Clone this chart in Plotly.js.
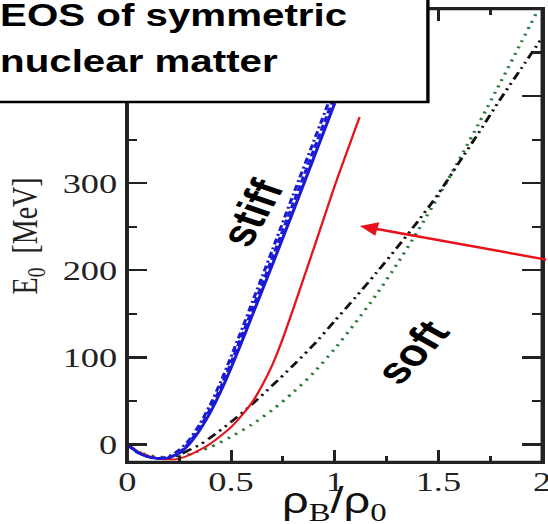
<!DOCTYPE html>
<html>
<head>
<meta charset="utf-8">
<script src="https://cdn.plot.ly/plotly-3.0.1.min.js"></script>
<style>
  html, body { margin:0; padding:0; background:#fff; overflow:hidden; }
  #wrap { width:548px; height:524px; overflow:hidden; position:relative; }
  #plot { height:524px; transform-origin:0 0; }
</style>
</head>
<body>
<div id="wrap"><div id="plot"></div></div>
<script>
// ---- data ----
const rhoBlue = [0, 0.05, 0.1, 0.15, 0.2, 0.25, 0.3, 0.35, 0.4, 0.45, 0.5, 0.55, 0.6, 0.65, 0.7, 0.8, 0.9, 1.0];
const eBlueSolid   = [0, -9, -14, -16, -15, -10, 1, 17, 37, 61, 88, 117, 147, 177, 207, 268, 330, 392];
const eBlueDash    = [0, -9, -14, -16, -14.5, -9, 3, 20, 41, 66, 94, 124, 154, 184, 215, 277, 339, 401];
const eBlueDashDot = [0, -9, -14, -15.5, -13.5, -6, 6, 24, 46, 72, 101, 131, 162, 193, 224, 287, 349, 411];

const rhoRed = [0, 0.05, 0.1, 0.15, 0.2, 0.25, 0.3, 0.35, 0.4, 0.45, 0.5, 0.55, 0.6, 0.65, 0.7, 0.75, 0.8, 0.85, 0.9, 1.0, 1.12];
const eRed   = [0, -8, -13, -16, -17, -16, -12, -6, 1, 10, 20, 33, 48, 68, 92, 122, 156, 191, 226, 297, 376];

const rhoSoft = [0, 0.05, 0.1, 0.15, 0.2, 0.25, 0.3, 0.35, 0.4, 0.5, 0.6, 0.7, 0.8, 0.9, 1.0, 1.1, 1.2, 1.3, 1.4, 1.5, 1.6, 1.7, 1.8, 1.9, 2.0];
const eBlack = [0, -8, -13, -16, -16, -12, -6, 0, 8, 26, 46, 68, 91, 115, 142, 169, 197, 226, 256, 288, 324, 360, 397, 432, 467];
const eGreen = [-2, -8, -12, -14, -14.5, -13.5, -11, -7, -3, 9, 23, 40, 60, 83, 110, 140, 172, 207, 245, 285, 327, 371, 416, 462, 508];

const xTickVals = [0, 0.5, 1, 1.5, 2];
const xTickText = ['0', '0.5', '1', '1.5', '2'];
const xMinorVals = [0.25, 0.75, 1.25, 1.75];
const yTickVals = [0, 100, 200, 300, 400];
const yTickText = ['0', '100', '200', '300', ''];   // 400 is hidden behind the title box
const yMinorVals = [50, 150, 250, 350, 450];

const titleLines = ['EOS of symmetric', 'nuclear matter'];
const labelStiff = 'stiff';
const labelSoft = 'soft';

// ---- geometry (horizontal stretch of the original figure) ----
const S = 1.3;
const W = 548 / S, H = 524;
const mL = 128 / S, mR = 6 / S, mT = 9, mB = 62;
const pw = W - mL - mR, ph = H - mT - mB;
const px = X => ((X / S) - mL) / pw;     // reference pixel x -> paper
const py = Y => (H - mB - Y) / ph;       // reference pixel y -> paper

document.getElementById('plot').style.width = W + 'px';
document.getElementById('plot').style.transform = 'scaleX(' + S + ')';

const line = (color, width, dash) => ({color: color, width: width, dash: dash, shape: 'spline', smoothing: 0.7});

const traces = [
  {x: rhoSoft, y: eGreen, mode: 'lines', line: line('#2f7a3a', 2.6, '2px,5px')},
  {x: rhoSoft, y: eBlack, mode: 'lines', line: line('#111111', 2.4, '8px,4px,2px,4px,2px,4px')},
  {x: rhoRed, y: eRed, mode: 'lines', line: line('#e3141c', 1.8, 'solid')},
  {x: rhoBlue, y: eBlueDashDot, mode: 'lines', line: line('#1a1ad6', 2.4, '6px,3px,2px,3px')},
  {x: rhoBlue, y: eBlueDash, mode: 'lines', line: line('#1a1ad6', 2.4, '6px,3px')},
  {x: rhoBlue, y: eBlueSolid, mode: 'lines', line: line('#1a1ad6', 2.4, 'solid')}
];

const TC = '#222';
const axisCommon = {
  showline: true, linewidth: 2.2, linecolor: '#222', mirror: 'ticks',
  ticks: 'inside', tickwidth: 2.2, tickcolor: TC,
  showgrid: false, zeroline: false, automargin: false, ticklabeloverflow: 'allow',
  tickfont: {family: 'Liberation Serif', size: 28, color: '#222'}
};

const layout = {
  width: W, height: H,
  margin: {l: mL, r: mR, t: mT, b: mB, pad: 0},
  paper_bgcolor: '#fff', plot_bgcolor: '#fff',
  showlegend: false,
  xaxis: Object.assign({}, axisCommon, {
    range: [0, 2], tickmode: 'array', tickvals: xTickVals, ticktext: xTickText,
    ticklen: 12, ticklabelstandoff: -7,
    minor: {tickmode: 'array', tickvals: xMinorVals, ticks: 'inside', ticklen: 6, tickwidth: 2.2, tickcolor: TC}
  }),
  yaxis: Object.assign({}, axisCommon, {
    range: [-20, 500], tickmode: 'array', tickvals: yTickVals, ticktext: yTickText,
    ticklen: 20 / S, ticklabelstandoff: 0,
    minor: {tickmode: 'array', tickvals: yMinorVals, ticks: 'inside', ticklen: 10 / S, tickwidth: 2.2, tickcolor: TC}
  }),
  shapes: [
    {type: 'rect', xref: 'paper', yref: 'paper', layer: 'above',
     x0: 0, x1: 1, y0: 0, y1: 1, line: {color: '#222', width: 2.4}},
    {type: 'rect', xref: 'paper', yref: 'paper', layer: 'above',
     x0: px(-12), x1: px(428), y0: py(102), y1: py(-12),
     fillcolor: '#fff', line: {color: '#000', width: 2.6}}
  ],
  annotations: [
    {xref: 'paper', yref: 'paper', x: px(-2), y: py(16), xanchor: 'left', yanchor: 'middle',
     text: '<b>' + titleLines[0] + '</b>', showarrow: false,
     font: {family: 'Liberation Sans', size: 31, color: '#000'}},
    {xref: 'paper', yref: 'paper', x: px(-2), y: py(61), xanchor: 'left', yanchor: 'middle',
     text: '<b>' + titleLines[1] + '</b>', showarrow: false,
     font: {family: 'Liberation Sans', size: 31, color: '#000'}},
    {xref: 'x', yref: 'y', x: 0.604, y: 266, text: '<b>' + labelStiff + '</b>', showarrow: false,
     textangle: -66, font: {family: 'Liberation Sans', size: 37, color: '#000'}},
    {xref: 'x', yref: 'y', x: 1.372, y: 106, text: '<b>' + labelSoft + '</b>', showarrow: false,
     textangle: -54, font: {family: 'Liberation Sans', size: 37, color: '#000'}},
    {xref: 'x', yref: 'y', x: 1.121, y: 251, text: '', showarrow: true,
     ax: 169, ay: 34, arrowhead: 2, arrowsize: 1.15, arrowwidth: 2.4, arrowcolor: '#e8101a', standoff: 0},
    {xref: 'paper', yref: 'paper', x: px(28), y: 0.5, textangle: -90, xanchor: 'center', yanchor: 'middle',
     text: 'E<sub>0</sub>\u00a0\u00a0[MeV]', showarrow: false,
     font: {family: 'Liberation Serif', size: 28, color: '#222'}},
    {xref: 'paper', yref: 'paper', x: px(334), y: py(478), xanchor: 'center', yanchor: 'top',
     text: 'ρ<sub><span style="font-family:Liberation Serif">B</span></sub>/ρ<sub><span style="font-family:Liberation Serif">0</span></sub>',
     showarrow: false, font: {family: 'Liberation Sans', size: 36, color: '#111'}}
  ]
};

Plotly.newPlot('plot', traces, layout, {staticPlot: true, displayModeBar: false});
</script>
</body>
</html>
